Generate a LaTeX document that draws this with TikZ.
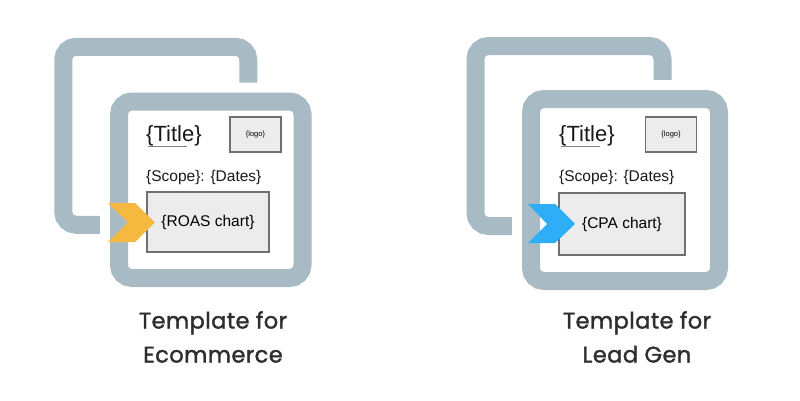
\documentclass[tikz,border=0pt]{standalone}
\usepackage{fontspec}
\setmainfont{Liberation Sans}
\newfontfamily\capfont[FakeBold=1.6, LetterSpace=2]{Poppins}
\usetikzlibrary{positioning,calc}

\definecolor{framegray}{HTML}{A8BBC4}
\definecolor{boxgray}{HTML}{ECECEC}
\definecolor{edgegray}{HTML}{707070}
\definecolor{roasyellow}{HTML}{F4B93E}
\definecolor{cpablue}{HTML}{2FAEF8}
\definecolor{captext}{HTML}{2E2E2E}

\begin{document}
\begin{tikzpicture}[
  x=1pt, y=-1pt,
  frame/.style={draw=framegray, line width=18pt, rounded corners=13pt, inner sep=0pt, minimum width=185pt, minimum height=178pt},
  cover/.style={frame, draw=white, fill=white, line width=38pt},
  titletext/.style={anchor=west, inner sep=0pt, text=black!90, font=\fontsize{22}{26}\selectfont},
  scopetext/.style={anchor=west, inner sep=0pt, text=black!90, font=\fontsize{15.5}{18}\selectfont},
  logo/.style={draw=edgegray, fill=boxgray, line width=1.2pt, minimum width=51pt, minimum height=35pt, font=\fontsize{7.5}{9}\selectfont},
  chart/.style={draw=edgegray, fill=boxgray, line width=1.2pt, font=\fontsize{15.5}{18}\selectfont},
  uline/.style={draw=gray, line width=1.5pt},
  caption/.style={align=center, text=captext, font=\capfont\fontsize{22.5}{34}\selectfont}
]
\useasboundingbox (0,0) rectangle (800,400);

% Ecommerce template
\node[frame] (back1) at (155.75,135.75) {};
\node[cover, minimum width=183.5pt, minimum height=176.5pt] (cover1) at (210.75,189.75) {};
\node[frame, minimum width=183.5pt, minimum height=176.5pt] (front1) at (210.75,189.75) {};

\node[titletext] (title1) at (146,136) {\{Title\}};
\draw[uline] ($(title1.south west)+(2,0)$) -- ++(39,0);
\node[logo] (logo1) at (255.5,134.5) {\{logo\}};
\node[scopetext] (scope1) at (146,177) {\{Scope\}: \{Dates\}};
\node[chart, minimum width=122pt, minimum height=60pt] (chart1) at (208,222) {\{ROAS chart\}};
\fill[roasyellow] (108,203) -- (135,203) -- (155,222.5) -- (135,242) -- (108,242) -- (128,222.5) -- cycle;

\node[caption] (cap1) at (213,337) {Template for\\Ecommerce};

% Lead Gen template
\node[frame, minimum width=187pt, minimum height=180pt] (back2) at (569,136) {};
\node[cover, minimum width=188pt, minimum height=182pt] (cover2) at (625,190) {};
\node[frame, minimum width=188pt, minimum height=182pt] (front2) at (625,190) {};

\node[titletext] (title2) at (559,136) {\{Title\}};
\draw[uline] ($(title2.south west)+(2,0)$) -- ++(39,0);
\node[logo] (logo2) at (671,134.5) {\{logo\}};
\node[scopetext] (scope2) at (559,177) {\{Scope\}: \{Dates\}};
\node[chart, minimum width=126pt, minimum height=62pt] (chart2) at (622,224) {\{CPA chart\}};
\fill[cpablue] (528,204) -- (555,204) -- (575,224) -- (555,243) -- (528,243) -- (547,224) -- cycle;

\node[caption] (cap2) at (637,337) {Template for\\Lead Gen};

\end{tikzpicture}
\end{document}
